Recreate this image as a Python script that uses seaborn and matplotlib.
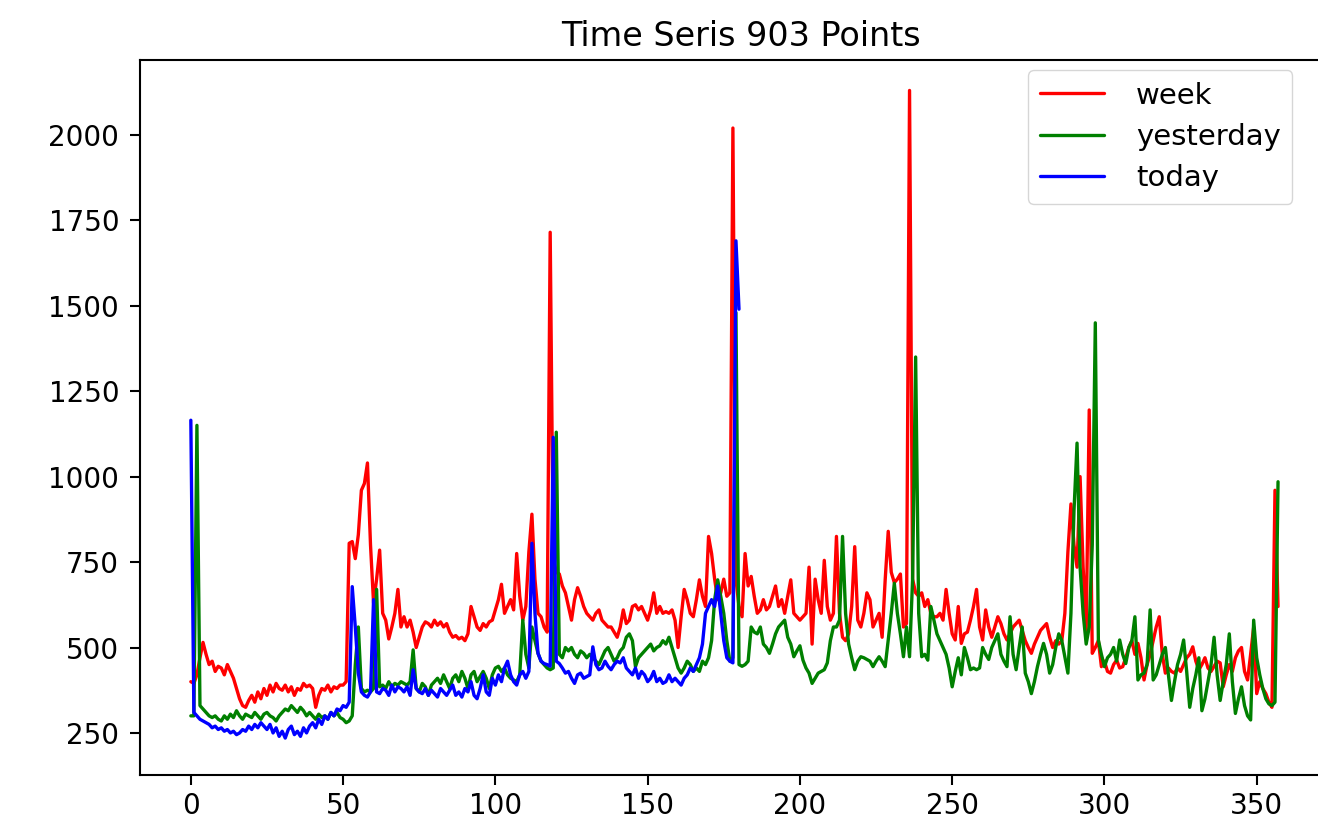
import matplotlib
matplotlib.use("Agg")
import matplotlib.pyplot as plt
import seaborn as sns
import pandas as pd
import numpy as np

title = "Time Seris 903 Points"
series_names = ["week", "yesterday", "today"]
series_colors = ["red", "green", "blue"]
x_ticks = [0, 50, 100, 150, 200, 250, 300, 350]
y_ticks = [250, 500, 750, 1000, 1250, 1500, 1750, 2000]

week = [
    400, 395, 420, 470, 515, 480, 450, 460, 430, 445,
    440, 420, 450, 430, 410, 380, 350, 330, 325, 345,
    360, 340, 370, 350, 380, 360, 390, 370, 395, 380,
    375, 390, 370, 385, 360, 380, 375, 395, 385, 390,
    380, 325, 360, 380, 375, 390, 370, 385, 380, 390,
    390, 400, 805, 810, 760, 830, 960, 980, 1040, 800,
    630, 700, 785, 600, 580, 525, 560, 600, 670, 560,
    590, 560, 580, 545, 500, 530, 560, 575, 570, 560,
    580, 565, 575, 560, 570, 545, 530, 535, 525, 530,
    520, 540, 620, 590, 560, 550, 570, 560, 575, 580,
    610, 640, 685, 600, 620, 640, 610, 775, 650, 580,
    620, 780, 890, 700, 600, 590, 560, 545, 1715, 760,
    720, 715, 680, 660, 620, 580, 640, 675, 650, 620,
    600, 590, 580, 600, 610, 580, 570, 560, 560, 545,
    530, 560, 610, 570, 580, 620, 625, 610, 620, 600,
    580, 610, 660, 600, 620, 600, 605, 600, 610, 580,
    500, 590, 670, 640, 600, 590, 640, 698, 650, 620,
    825, 775, 700, 640, 660, 700, 650, 660, 2020, 700,
    620, 590, 775, 680, 708, 650, 600, 610, 640, 610,
    620, 650, 680, 620, 640, 600, 650, 698, 600, 590,
    580, 590, 600, 735, 510, 700, 640, 600, 755, 620,
    580, 600, 825, 600, 530, 520, 540, 620, 795, 580,
    560, 600, 660, 640, 560, 580, 600, 530, 698, 840,
    720, 690, 700, 715, 560, 570, 2130, 700, 660, 650,
    660, 620, 640, 600, 590, 590, 600, 580, 670, 600,
    540, 522, 620, 512, 540, 545, 580, 620, 670, 560,
    522, 610, 560, 530, 560, 590, 570, 540, 522, 540,
    560, 570, 580, 550, 520, 500, 483, 510, 530, 550,
    560, 570, 530, 500, 520, 510, 520, 600, 780, 920,
    800, 735, 1000, 735, 550, 1195, 483, 500, 520, 444,
    460, 430, 425, 450, 463, 440, 444, 470, 500, 520,
    480, 512, 470, 405, 450, 480, 520, 560, 590, 480,
    425, 440, 430, 425, 440, 430, 450, 470, 480, 502,
    460, 435, 450, 470, 440, 430, 445, 460, 455, 385,
    420, 450, 430, 470, 490, 500, 430, 405, 480, 560,
    365, 400, 380, 365, 340, 325, 960, 620,
]

yesterday = [
    300, 300, 1150, 330, 320, 310, 300, 295, 300, 290,
    285, 300, 290, 305, 295, 315, 300, 290, 305, 300,
    295, 310, 300, 290, 305, 310, 300, 295, 285, 300,
    310, 320, 315, 330, 320, 310, 325, 315, 300, 310,
    300, 290, 305, 295, 300, 290, 310, 300, 310, 295,
    290, 280, 285, 300, 450, 560, 380, 370, 375, 370,
    380, 670, 385, 390, 380, 400, 385, 395, 390, 400,
    395, 390, 400, 493, 380, 370, 395, 385, 360, 390,
    400, 410, 395, 420, 400, 380, 410, 420, 400, 430,
    410, 380, 420, 430, 400, 415, 430, 410, 380, 420,
    440, 445, 430, 440, 420, 410, 405, 400, 420, 580,
    480, 440, 560, 520, 483, 460, 450, 440, 435, 440,
    1130, 480, 470, 500, 490, 500, 480, 470, 490, 483,
    470, 480, 470, 460, 450, 470, 490, 500, 480, 460,
    470, 490, 500, 530, 540, 520, 444, 470, 480, 490,
    500, 510, 490, 500, 505, 520, 510, 530, 500, 470,
    440, 425, 440, 460, 450, 430, 440, 430, 460, 450,
    470, 520, 640, 698, 650, 600, 520, 460, 470, 1480,
    450, 445, 450, 460, 560, 545, 540, 560, 510, 500,
    483, 510, 540, 560, 570, 580, 530, 510, 473, 490,
    505, 463, 440, 425, 395, 410, 425, 430, 435, 455,
    520, 560, 560, 580, 825, 600, 510, 470, 435, 460,
    473, 470, 465, 460, 444, 460, 473, 460, 444, 522,
    600, 688, 600, 540, 473, 560, 473, 700, 1350, 600,
    473, 480, 463, 620, 580, 540, 520, 500, 480, 440,
    385, 430, 470, 420, 500, 470, 435, 440, 435, 440,
    500, 480, 465, 500, 520, 540, 480, 460, 444, 590,
    480, 435, 500, 560, 425, 400, 365, 400, 444, 480,
    512, 480, 425, 450, 500, 540, 520, 473, 425, 600,
    900, 1098, 735, 600, 510, 560, 800, 1450, 522, 480,
    444, 470, 480, 500, 460, 522, 480, 453, 500, 520,
    590, 405, 420, 425, 450, 610, 405, 420, 450, 480,
    500, 420, 345, 400, 450, 480, 522, 430, 325, 380,
    420, 470, 315, 350, 400, 450, 530, 420, 345, 400,
    450, 540, 400, 307, 350, 385, 330, 300, 288, 580,
    470, 420, 380, 350, 335, 330, 340, 985,
]

today = [
    1165, 310, 300, 290, 285, 280, 275, 265, 270, 260,
    265, 255, 260, 250, 255, 245, 250, 260, 255, 270,
    260, 275, 265, 280, 270, 260, 275, 250, 265, 240,
    255, 235, 260, 270, 245, 255, 240, 265, 250, 270,
    280, 265, 290, 275, 300, 290, 310, 300, 320, 315,
    330, 325, 340, 678, 560, 425, 370, 360, 355, 370,
    640, 370, 365, 380, 375, 360, 390, 370, 385, 380,
    370, 385, 360, 435, 380, 370, 365, 380, 360, 375,
    365, 355, 380, 370, 360, 375, 390, 360, 370, 355,
    380, 370, 400, 360, 350, 380, 420, 370, 360, 410,
    390, 420, 400, 440, 460, 420, 400, 390, 420, 430,
    410, 430, 805, 600, 483, 460, 453, 450, 445, 1115,
    460, 453, 440, 425, 430, 410, 395, 420, 425, 410,
    415, 420, 502, 450, 435, 440, 460, 445, 435, 450,
    460, 455, 470, 440, 430, 420, 440, 410, 430, 420,
    400, 410, 430, 400, 410, 395, 400, 420, 400, 410,
    400, 390, 410, 420, 440, 430, 450, 470, 510, 600,
    620, 640, 620, 680, 600, 520, 470, 460, 455, 1690,
    1490,
]

sns.set_theme(style="ticks", rc={
    "axes.edgecolor": "black",
    "axes.linewidth": 1.5,
    "xtick.major.size": 7,
    "ytick.major.size": 7,
    "xtick.major.width": 1.5,
    "ytick.major.width": 1.5,
    "xtick.major.pad": 5,
    "ytick.major.pad": 8,
    "text.color": "black",
    "xtick.color": "black",
    "ytick.color": "black",
})
plt.rcParams["font.family"] = ["DejaVu Sans"]

fig = plt.figure(figsize=(13.18, 8.18), dpi=100)
ax = fig.add_axes([0.1062, 0.0526, 0.912, 0.874])

frames = []
for name, vals in zip(series_names, [week, yesterday, today]):
    frames.append(pd.DataFrame({"x": np.arange(len(vals)), "value": vals, "series": name}))
df = pd.concat(frames, ignore_index=True)

for name, color in zip(series_names, series_colors):
    sub = df[df["series"] == name]
    sns.lineplot(data=sub, x="x", y="value", color=color, label=name,
                 linewidth=2.4, ax=ax, estimator=None)

ax.set_xlim(-16.7, 378)
ax.set_ylim(127, 2219)
ax.set_xticks(x_ticks)
ax.set_yticks(y_ticks)
ax.tick_params(labelsize=20, colors="black")
ax.set_xlabel("")
ax.set_ylabel("")
ax.set_title(title, fontsize=24, pad=10, color="black")

# legend anchored by its upper-left corner (in figure pixels -> figure fraction)
leg = ax.legend(loc="upper left", bbox_to_anchor=(1028 / 1318, 1 - 70 / 818),
                bbox_transform=fig.transFigure, borderaxespad=0.0,
                fontsize=21, frameon=True, fancybox=True,
                framealpha=0.8, edgecolor="#cccccc", handlelength=2.2,
                handletextpad=1.1, labelspacing=0.45)
for t in leg.get_texts():
    t.set_color("black")

fig.savefig("out.png", dpi=100)
